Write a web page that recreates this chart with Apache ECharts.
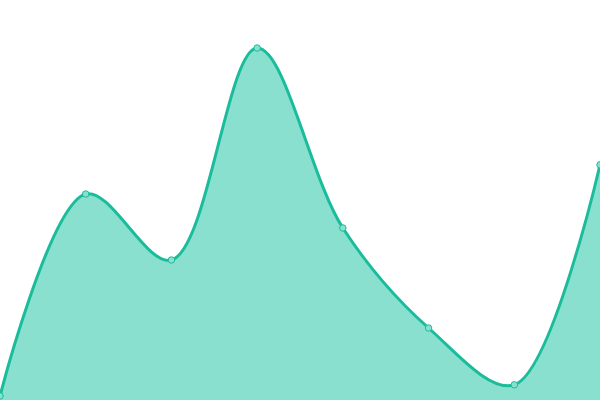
<!DOCTYPE html>
<html>
<head>
<meta charset="utf-8">
<script src="https://cdn.jsdelivr.net/npm/echarts@6/dist/echarts.min.js"></script>
<style>
  html, body { margin: 0; padding: 0; background: #fff; }
  #chart { width: 600px; height: 400px; }
</style>
</head>
<body>
<div id="chart"></div>
<script>
// categories and values (0-100 scale)
const categories = ['A', 'B', 'C', 'D', 'E', 'F', 'G', 'H']
const values = [1, 51.5, 35, 88, 43, 18, 3.8, 58.8]

const lineColor = '#1abc9c'
const areaColor = '#8ae0cf'
const alpha = 0.5   // centripetal catmull-rom

// catmull-rom curve through the projected points, as svg path data
function curvePath(pts) {
  const dist = (p, q) => Math.hypot(p[0] - q[0], p[1] - q[1])
  let d = 'M' + pts[0][0] + ' ' + pts[0][1]
  for (let i = 0; i < pts.length - 1; i++) {
    const p0 = pts[i - 1]
    const p1 = pts[i]
    const p2 = pts[i + 1]
    const p3 = pts[i + 2]
    const l12 = Math.pow(dist(p1, p2), alpha), l12b = l12 * l12
    let c1 = p1.slice(), c2 = p2.slice()
    if (p0) {
      const l01 = Math.pow(dist(p0, p1), alpha), l01b = l01 * l01
      const a = 2 * l01b + 3 * l01 * l12 + l12b
      const n = 3 * l01 * (l01 + l12)
      c1 = [0, 1].map(k => (p1[k] * a - p0[k] * l12b + p2[k] * l01b) / n)
    }
    if (p3) {
      const l23 = Math.pow(dist(p2, p3), alpha), l23b = l23 * l23
      const b = 2 * l23b + 3 * l23 * l12 + l12b
      const m = 3 * l23 * (l23 + l12)
      c2 = [0, 1].map(k => (p2[k] * b + p1[k] * l23b - p3[k] * l12b) / m)
    }
    d += ' C' + c1[0] + ' ' + c1[1] + ' ' + c2[0] + ' ' + c2[1] + ' ' + p2[0] + ' ' + p2[1]
  }
  return d
}

const myChart = echarts.init(document.getElementById('chart'))
const option = {
  animation: false,
  grid: { left: 0, right: 0, top: 0, bottom: 0 },
  xAxis: {
    type: 'category',
    data: categories,
    boundaryGap: false,
    show: false
  },
  yAxis: {
    type: 'value',
    min: 0,
    max: 100,
    show: false
  },
  series: [{
    // area + smooth line
    type: 'custom',
    data: [0],
    encode: { x: -1, y: -1 },
    renderItem: function (params, api) {
      const pts = values.map((v, i) => api.coord([i, v]))
      const base = api.coord([0, 0])[1]
      const line = curvePath(pts)
      const last = pts[pts.length - 1]
      const area = line + ' L' + last[0] + ' ' + base + ' L' + pts[0][0] + ' ' + base + ' Z'
      return {
        type: 'group',
        children: [{
          type: 'path',
          shape: { pathData: area },
          style: { fill: areaColor, stroke: null }
        }, {
          type: 'path',
          shape: { pathData: line },
          style: { fill: null, stroke: lineColor, lineWidth: 3 }
        }]
      }
    }
  }, {
    // point markers
    type: 'line',
    data: values,
    symbol: 'circle',
    symbolSize: 6.5,
    lineStyle: { opacity: 0 },
    itemStyle: { color: areaColor, borderColor: lineColor, borderWidth: 1 },
    z: 5
  }]
}
myChart.setOption(option)
</script>
</body>
</html>
